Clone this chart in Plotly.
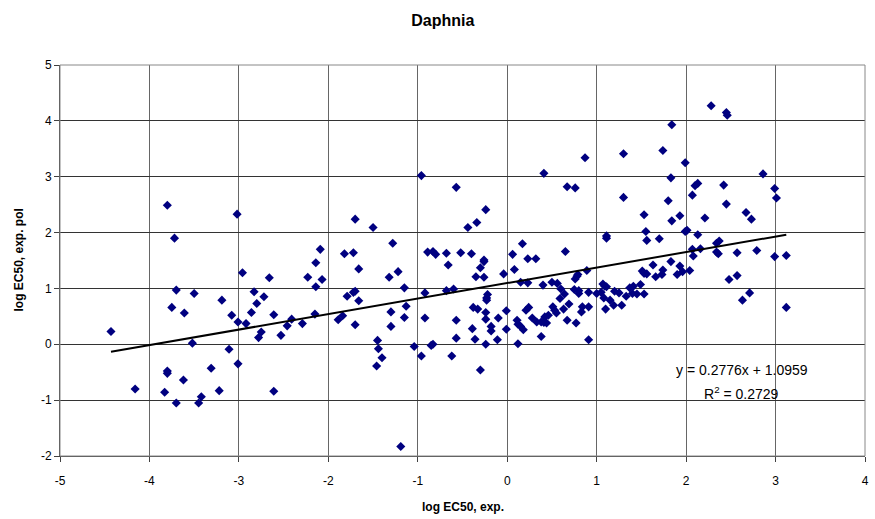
import plotly.graph_objects as go

title_text = "Daphnia"
x_title = "log EC50, exp."
y_title = "log EC50, exp. pol"

x_vals = [
    -3.80, -3.72, -3.02,
    -4.43, -4.16, -3.83, -3.80, -3.80, -3.70, -3.75, -3.61, -3.70, -3.62, -3.52, -3.50, -3.45, -3.42,
    -3.31, -3.22, -3.19, -3.11, -3.08, -3.01, -3.01, -2.96, -2.92, -2.86, -2.83, -2.80, -2.78, -2.75,
    -2.72, -2.66, -2.61, -2.61, -2.53, -2.46,
    -2.09, -1.82, -1.72, -1.70, -1.50, -1.28, -0.96, -0.57, -0.44, -0.34, -0.24, -0.89, -0.83, -0.80,
    -0.68, -0.52, -0.40, -0.26,
    -2.14, -2.23, -2.07, -2.14, -2.15, -2.41, -2.29, -1.66, -1.79, -1.72, -1.70, -1.66, -1.89, -1.84,
    -1.70, -1.45, -1.44, -1.40, -1.46, -1.32, -1.22, -1.15, -1.30, -1.13, -1.15, -1.30, -1.19, -1.04,
    -0.96, -0.92, -0.92, -0.85, -0.83, -0.68, -0.60, -0.57, -0.57, -0.62, -0.66, -0.35, -0.30, -0.26,
    -0.26, -0.22, -0.23, -0.23, -0.38, -0.33, -0.24, -0.24, -0.10, -0.01, -0.18, -0.18, -0.39, -0.36,
    -0.11, -0.24, -0.30, -0.01, -0.04,
    0.41, 0.87, 0.67, 0.76, 0.17, 0.06, 0.23, 0.32, 0.65, 1.30, 1.30, 1.74, 1.84, 1.99, 1.83, 1.80,
    1.53, 1.93, 1.84, 1.55, 1.56, 1.70, 1.11, 1.11, 1.99, 1.83,
    0.08, 0.15, 0.23, 0.40, 0.50, 0.56, 0.60, 0.64, 0.59, 0.76, 0.78, 0.79, 0.75, 0.80, 0.80, 0.89,
    0.91, 0.69, 0.63, 0.51, 0.53, 0.55, 0.46, 0.42, 0.41, 0.44, 0.38, 0.33, 0.28, 0.21, 0.24, 0.11,
    0.12, 0.15, 0.18, 0.12, 0.38, 0.67, 0.77, 0.83, 0.84, 0.91, 0.91, 1.00, 1.05, 1.07, 1.09, 1.11,
    1.08, 1.10, 1.15, 1.19, 1.20, 1.25, 1.28, 1.33, 1.37, 1.41, 1.40, 1.45, 1.49, 1.53, 1.51, 1.53,
    1.56, 1.63, 1.66, 1.73, 1.74, 1.93, 1.90, 1.96,
    2.28, 2.45, 2.46, 2.86, 2.99, 3.01, 2.10, 2.13, 2.07, 2.42, 2.45, 2.67, 2.73, 2.21, 2.01, 2.13,
    2.34, 2.37, 2.07, 2.16, 2.08, 2.34, 2.36, 2.57, 2.79, 2.99, 3.12, 2.04, 2.48, 2.57, 2.63, 2.71,
    3.12,
]
y_vals = [
    2.49, 1.90, 2.33,
    0.23, -0.80, -0.86, -0.48, -0.52, 0.97, 0.66, 0.56, -1.05, -0.64, 0.02, 0.91, -1.05, -0.94,
    -0.43, -0.83, 0.79, -0.09, 0.52, 0.40, -0.35, 1.28, 0.37, 0.57, 0.94, 0.73, 0.12, 0.22,
    0.85, 1.19, 0.53, -0.84, 0.16, 0.33,
    1.70, 1.62, 1.64, 2.24, 2.09, 1.81, 3.02, 2.81, 2.09, 2.18, 2.41, 1.65, 1.66, 1.61,
    1.63, 1.64, 1.62, 1.51,
    1.46, 1.20, 1.16, 1.03, 0.54, 0.45, 0.37, 1.35, 0.86, 0.93, 0.95, 0.78, 0.44, 0.51,
    0.35, 0.07, -0.08, -0.24, -0.39, 1.20, 1.30, 1.01, 0.58, 0.68, 0.48, 0.32, -1.83, -0.04,
    -0.21, 0.92, 0.47, -0.02, 0.00, 0.96, 0.99, 0.43, 0.11, -0.21, 1.42, 1.21, 1.37, 1.48,
    1.20, 0.89, 0.83, 0.79, 0.66, 0.63, 0.57, 0.45, 0.47, 0.60, 0.32, 0.24, 0.28, 0.09,
    0.08, 0.00, -0.46, 0.27, 1.26,
    3.06, 3.34, 2.82, 2.80, 1.80, 1.61, 1.53, 1.53, 1.66, 3.41, 2.63, 3.47, 3.93, 3.25, 2.98, 2.57,
    2.32, 2.30, 2.21, 2.02, 1.86, 1.89, 1.94, 1.90, 2.02, 1.48,
    1.34, 1.11, 1.10, 1.06, 1.11, 1.09, 0.99, 0.90, 0.82, 1.17, 1.22, 1.25, 0.98, 0.96, 0.91, 1.32,
    0.93, 0.72, 0.63, 0.67, 0.61, 0.56, 0.52, 0.49, 0.39, 0.38, 0.40, 0.40, 0.47, 0.61, 0.66, 0.43,
    0.36, 0.32, 0.26, 0.01, 0.14, 0.43, 0.38, 0.58, 0.67, 0.67, 0.08, 0.91, 0.93, 1.08, 1.04, 1.03,
    0.83, 0.63, 0.79, 0.70, 0.95, 0.92, 0.70, 0.86, 1.01, 1.04, 0.91, 0.90, 1.07, 0.90, 1.31, 1.27,
    1.26, 1.42, 1.21, 1.25, 1.33, 1.40, 1.25, 1.30,
    4.27, 4.15, 4.10, 3.05, 2.79, 2.62, 2.84, 2.88, 2.67, 2.85, 2.51, 2.36, 2.24, 2.26, 2.04, 1.96,
    1.81, 1.85, 1.70, 1.71, 1.58, 1.65, 1.62, 1.64, 1.68, 1.57, 1.59, 1.32, 1.16, 1.23, 0.79, 0.92,
    0.66,
]

slope = 0.2776
intercept = 1.0959
r_squared = 0.2729

x_ticks = [-5, -4, -3, -2, -1, 0, 1, 2, 3, 4]
y_ticks = [-2, -1, 0, 1, 2, 3, 4, 5]

fit_x = [min(x_vals), max(x_vals)]
fit_y = [slope * v + intercept for v in fit_x]

FONT = "Liberation Sans, Arial, sans-serif"

fig = go.Figure()
fig.add_trace(go.Scatter(
    x=x_vals, y=y_vals, mode="markers",
    marker=dict(symbol="diamond", size=7, color="#000080", line=dict(width=0)),
    showlegend=False, hoverinfo="x+y",
))
fig.add_trace(go.Scatter(
    x=fit_x, y=fit_y, mode="lines",
    line=dict(color="black", width=2),
    showlegend=False, hoverinfo="skip",
))

fig.update_layout(
    width=875, height=519,
    margin=dict(l=60, r=6, t=65, b=63),
    paper_bgcolor="white", plot_bgcolor="white",
    font=dict(family=FONT, size=12, color="black"),
    title=dict(text="<b>" + title_text + "</b>", x=0.506, xanchor="center",
               y=1 - 20 / 519, yanchor="middle", font=dict(size=16, family=FONT)),
    xaxis=dict(range=[-5, 4], tickvals=x_ticks, ticktext=[str(t) for t in x_ticks],
               showgrid=True, gridcolor="#666666", gridwidth=1,
               showline=True, linecolor="#404040", linewidth=1,
               ticks="outside", ticklen=5, tickcolor="#404040", ticklabelstandoff=9,
               zeroline=False, tickfont=dict(size=12), fixedrange=True),
    yaxis=dict(range=[-2, 5], tickvals=y_ticks, ticktext=[str(t) for t in y_ticks],
               showgrid=True, gridcolor="#333333", gridwidth=1,
               showline=True, linecolor="#404040", linewidth=1,
               ticks="outside", ticklen=5, tickcolor="#404040",
               zeroline=False, tickfont=dict(size=12), fixedrange=True),
    shapes=[dict(type="rect", xref="paper", yref="paper", x0=0, x1=1, y0=0, y1=1,
                 line=dict(color="#888888", width=1), fillcolor="rgba(0,0,0,0)", layer="above")],
    annotations=[
        dict(text="<b>" + x_title + "</b>", xref="paper", yref="paper", x=0.5, y=0,
             yshift=-51, xanchor="center", yanchor="middle", showarrow=False,
             font=dict(size=12, family=FONT)),
        dict(text="<b>" + y_title + "</b>", xref="paper", yref="paper", x=0, y=0.5,
             xshift=-42, xanchor="center", yanchor="middle", textangle=-90, showarrow=False,
             font=dict(size=12, family=FONT)),
        dict(text="y = %.4fx + %.4f" % (slope, intercept), xref="x", yref="y",
             x=2.62, y=-0.46, xanchor="center", yanchor="middle", showarrow=False,
             font=dict(size=14, family=FONT)),
        dict(text="R<sup>2</sup> = %.4f" % r_squared, xref="x", yref="y",
             x=2.62, y=-0.88, xanchor="center", yanchor="middle", showarrow=False,
             font=dict(size=14, family=FONT)),
    ],
)

fig.write_html("out.html", config={"displayModeBar": False},
               post_script="document.body.style.margin='0';document.body.style.overflow='hidden';")
